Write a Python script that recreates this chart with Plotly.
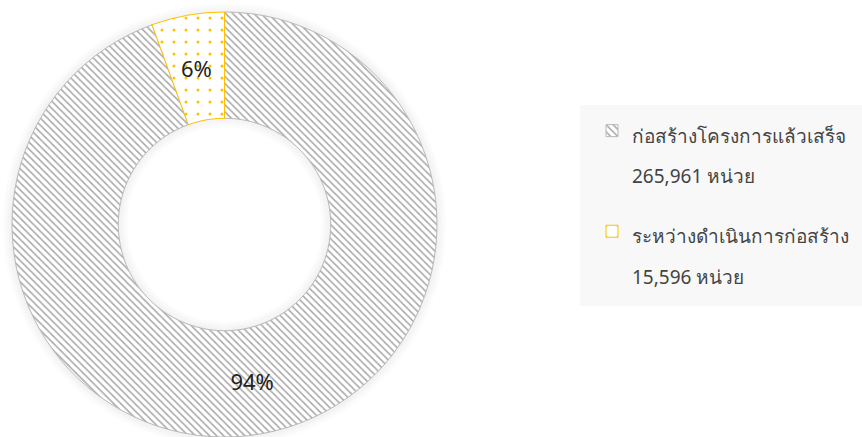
import math
import plotly.graph_objects as go

names = ["ก่อสร้างโครงการแล้วเสร็จ", "ระหว่างดำเนินการก่อสร้าง"]
units = ["265,961 หน่วย", "15,596 หน่วย"]
values = [265961, 15596]
line_colors = ["#b8b8b8", "#FFC000"]
pattern_shapes = ["\\", "."]
pattern_fg = ["#a8a8a8", "#FFC000"]
pattern_size = [5, 12]
pattern_solidity = [0.3, 0.05]

W, H = 862, 437
ML, MR, MT, MB = 0, 0, 12, 0
PW, PH = W - ML - MR, H - MT - MB

dom_x = [12 / 862, 437 / 862]
R = min((dom_x[1] - dom_x[0]) * PW, PH) / 2
CX = ML + (dom_x[0] + dom_x[1]) / 2 * PW
CY = MT + PH / 2
HOLE = 0.5
FONT = "Tahoma, Noto Sans, sans-serif"

def px_to_paper(px, py):
    return (px - ML) / PW, 1 - (py - MT) / PH

labels = [f"<span style='font-size:19px'>{n}<br>{u}</span>" for n, u in zip(names, units)]
total = sum(values)
pct_text = [f"{round(v / total * 100)}%" for v in values]

fig = go.Figure()

# main donut (legend handled by the per-slice legend traces below)
fig.add_trace(go.Pie(
    labels=labels,
    values=values,
    hole=HOLE,
    sort=False,
    direction="clockwise",
    rotation=0,
    text=pct_text,
    textinfo="text",
    texttemplate=["%{text}", ""],
    textposition="inside",
    insidetextorientation="horizontal",
    textfont=dict(size=22, color="#222222", family=FONT),
    marker=dict(
        colors=["white", "white"],
        line=dict(color=line_colors, width=1),
        pattern=dict(shape=pattern_shapes, fgcolor=pattern_fg, bgcolor="white",
                     size=pattern_size, solidity=pattern_solidity),
    ),
    domain=dict(x=dom_x, y=[0, 1]),
    showlegend=False,
))

# legend entries: one group per slice so the groups get a gap between them
lx, ly = px_to_paper(850, 290)
for i in range(len(values)):
    fig.add_trace(go.Pie(
        labels=[labels[i]],
        values=[values[i]],
        sort=False,
        textinfo="none",
        hoverinfo="skip",
        legendgroup=f"g{i}",
        marker=dict(
            colors=["white"],
            line=dict(color=[line_colors[i]], width=1),
            pattern=dict(shape=[pattern_shapes[i]], fgcolor=[pattern_fg[i]], bgcolor="white",
                         size=[pattern_size[i]], solidity=[pattern_solidity[i]]),
        ),
        domain=dict(x=[lx, lx + 0.0005], y=[ly, ly + 0.0005]),
    ))

# label for the small slice at the middle of the ring
start = 0.0
annotations = []
for i, v in enumerate(values):
    frac = v / total
    mid = (start + frac / 2) * 2 * math.pi
    start += frac
    if i == 1:
        r = R * (1 + HOLE) / 2
        ax, ay = px_to_paper(CX + r * math.sin(mid), CY - r * math.cos(mid))
        annotations.append(dict(x=ax, y=ay, xref="paper", yref="paper", text=pct_text[i],
                                xanchor="center", yanchor="middle", showarrow=False,
                                font=dict(size=22, color="#222222", family=FONT)))

shapes = []
def circle(rad, color, width):
    x0, y0 = px_to_paper(CX - rad, CY + rad)
    x1, y1 = px_to_paper(CX + rad, CY - rad)
    return dict(type="circle", xref="paper", yref="paper", x0=x0, y0=y0, x1=x1, y1=y1,
                line=dict(color=color, width=width), layer="below")

for k in range(10):
    a = 0.05 * (1 - k / 10)
    shapes.append(circle(R + 0.5 + k, f"rgba(0,0,0,{a:.3f})", 1.2))
    shapes.append(circle(R * HOLE - 0.5 - k, f"rgba(0,0,0,{a:.3f})", 1.2))

# legend background panel
bx0, by0 = px_to_paper(580, 306)
bx1, by1 = px_to_paper(862, 105)
shapes.append(dict(type="rect", xref="paper", yref="paper", x0=bx0, y0=by0, x1=bx1, y1=by1,
                   fillcolor="#f8f8f8", line=dict(width=0), layer="above"))

gx, gy = px_to_paper(592, 104)
fig.update_layout(
    width=W, height=H,
    margin=dict(l=ML, r=MR, t=MT, b=MB),
    paper_bgcolor="white",
    showlegend=True,
    annotations=annotations,
    shapes=shapes,
    legend=dict(
        x=gx, y=gy, xanchor="left", yanchor="top",
        bgcolor="rgba(0,0,0,0)",
        font=dict(size=31, color="#444444", family=FONT),
        tracegroupgap=17,
        valign="top",
        itemwidth=30,
        traceorder="grouped",
    ),
)

fig.write_html("out.html")
